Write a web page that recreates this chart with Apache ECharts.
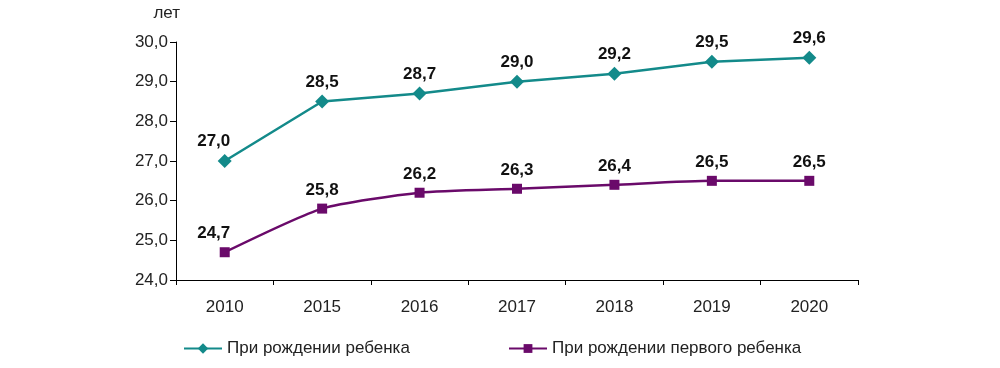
<!DOCTYPE html>
<html><head><meta charset="utf-8">
<script src="https://cdn.jsdelivr.net/npm/echarts@6/dist/echarts.min.js"></script>
<style>html,body{margin:0;padding:0;background:#fff}#c{width:1000px;height:368px}</style>
</head><body><div id="c"></div>
<script>
const categories = ['2010','2015','2016','2017','2018','2019','2020'];
const anyChild = [27.0, 28.5, 28.7, 29.0, 29.2, 29.5, 29.6];
const firstChild = [24.7, 25.8, 26.2, 26.3, 26.4, 26.5, 26.5];
const seriesNames = ['При рождении ребенка', 'При рождении первого ребенка'];
const yUnit = 'лет';

const fmt = v => v.toFixed(1).replace('.', ',');
const font = 'Arial, "Liberation Sans", sans-serif';
const legendText = {fontFamily:font, fontSize:17, color:'#222'};

function mk(vals){
  return vals.map((v,i)=> i===0 ? {value:v, label:{offset:[-11,0]}} : v);
}

const chart = echarts.init(document.getElementById('c'));
chart.setOption({
  animation:false,
  grid:{left:176, right:142, top:42, bottom:88},
  legend:[
    {top:335, left:178, itemWidth:38, itemHeight:13, itemGap:6, textStyle:legendText, data:[seriesNames[0]]},
    {top:335, left:503, itemWidth:38, itemHeight:11, itemGap:6, textStyle:legendText, data:[seriesNames[1]]}
  ],
  xAxis:{
    type:'category', data:categories, boundaryGap:true,
    axisLine:{lineStyle:{color:'#000', width:1}},
    axisTick:{show:true, inside:false, length:5, lineStyle:{color:'#000'}},
    axisLabel:{fontFamily:font, fontSize:17, color:'#222', margin:19}
  },
  yAxis:{
    type:'value', min:24, max:30, interval:1,
    name:yUnit, nameLocation:'end', nameGap:20,
    nameTextStyle:{fontFamily:font, fontSize:17, color:'#222', align:'right', padding:[0,-4,0,0]},
    axisLine:{show:true, lineStyle:{color:'#000', width:1}},
    axisTick:{show:true, length:6, lineStyle:{color:'#000'}},
    splitLine:{show:false},
    axisLabel:{fontFamily:font, fontSize:17, color:'#222', margin:8, formatter:v=>fmt(v)}
  },
  series:[
    {name:seriesNames[0], type:'line', data:mk(anyChild), smooth:false,
     symbol:'diamond', symbolSize:14,
     itemStyle:{color:'#138a8a'}, lineStyle:{color:'#138a8a', width:2.5},
     label:{show:true, position:'top', distance:4, fontFamily:font, fontSize:17, fontWeight:'bold', color:'#111', formatter:p=>fmt(p.value)}},
    {name:seriesNames[1], type:'line', data:mk(firstChild), smooth:0.2,
     symbol:'rect', symbolSize:10,
     itemStyle:{color:'#6a0a6a'}, lineStyle:{color:'#6a0a6a', width:2.5},
     label:{show:true, position:'top', distance:5, fontFamily:font, fontSize:17, fontWeight:'bold', color:'#111', formatter:p=>fmt(p.value)}}
  ]
});
</script></body></html>
